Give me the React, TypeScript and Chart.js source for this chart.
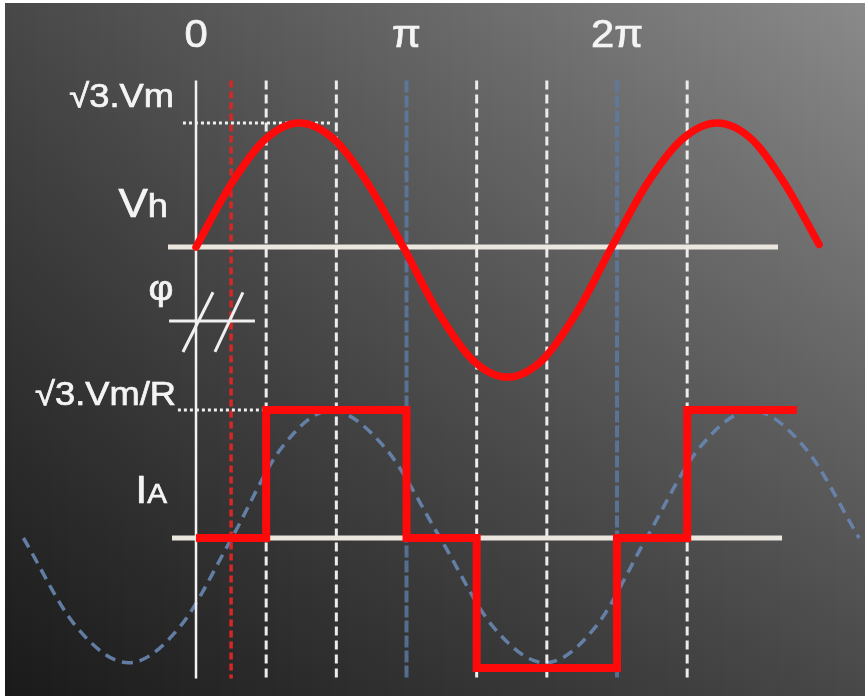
import React, { useEffect, useRef } from 'react';
import { Chart, registerables } from 'chart.js';

Chart.register(...registerables);

// ---- axis ranges (x in multiples of π, y in amplitude units) ----
const X_MIN = -0.9074;
const X_MAX = 3.1781;
const Y_MIN = -1.2154;
const Y_MAX = 4.1154;

// ---- tick labels ----
const TICK_VALUES = [0, 1, 2];
const TICK_LABELS = ['0', 'π', '2π'];

// ---- line-to-line voltage Vh (relative to its own baseline) ----
const V_BASE = 2.238;
const VOLT_X = [0, 0.165, 0.33, 0.49, 0.655, 0.82, 0.985, 1.15, 1.315, 1.48, 1.645, 1.81, 1.975, 2.14, 2.31, 2.475, 2.64, 2.8, 2.96];
const VOLT_Y = [0, 0.48, 0.83, 0.955, 0.83, 0.48, 0, -0.5, -0.87, -1.0, -0.87, -0.5, 0, 0.48, 0.83, 0.955, 0.83, 0.48, 0.02];

// ---- phase current IA (square wave) ----
const CURR_X = [0, 1 / 3, 1 / 3, 1, 1, 4 / 3, 4 / 3, 2, 2, 7 / 3, 7 / 3, 2.855];
const CURR_Y = [0, 0, 0.985, 0.985, 0, 0, -1.0, -1.0, 0, 0, 0.985, 0.985];

// ---- phase voltage (dashed blue, lagging by φ) ----
const PHASE_X = [-0.82, -0.57, -0.32, -0.075, 0.17, 0.405, 0.64, 0.9, 1.16, 1.41, 1.66, 1.9, 2.14, 2.39, 2.64, 2.895, 3.15];
const PHASE_Y = [0, -0.68, -0.96, -0.68, 0, 0.69, 0.98, 0.69, 0, -0.68, -0.96, -0.68, 0, 0.69, 0.98, 0.69, 0];

// ---- guide lines ----
const GRID_WHITE = [1 / 3, 2 / 3, 4 / 3, 5 / 3, 7 / 3];
const GRID_BLUE = [1, 2];
const PHI = 1 / 6;
const GUIDE_TOP = 3.52;
const GUIDE_BOTTOM = -1.08;
const V_PEAK = 0.954;
const I_PEAK = 0.985;
const VH_LINE = [-0.133, 2.765];
const IA_LINE = [-0.114, 2.784];
const V_DOT = [-0.062, 0.637];
const I_DOT = [-0.086, 0.34];
// φ marker: horizontal bar and two slashes
const PHI_BAR_X = [-0.128, 0.28];
const PHI_BAR_Y = 1.669;
const SLASH1_X = [-0.062, 0.081];
const SLASH2_X = [0.09, 0.223];
const SLASH_Y = [1.431, 1.89];

// ---- labels ----
const LABEL_VM = '√3.Vm';
const LABEL_VH = ['V', 'h'];
const LABEL_PHI = 'φ';
const LABEL_IM = '√3.Vm/R';
const LABEL_IA = ['I', 'A'];

const FONT = '"Liberation Sans", Arial, Helvetica, sans-serif';
const SX = 1.1;

const zip = (xs: number[], ys: number[], off = 0) => xs.map((x, i) => ({ x, y: ys[i] + off }));

function seg(x1: number, y1: number, x2: number, y2: number, extra: any) {
  return {
    data: [{ x: x1, y: y1 }, { x: x2, y: y2 }],
    showLine: true,
    pointRadius: 0,
    fill: false,
    tension: 0,
    ...extra,
  };
}

const bgPlugin = {
  id: 'bgGrad',
  beforeDraw(chart: any) {
    const { ctx, width, height } = chart;
    ctx.save();
    const step = 4;
    for (let x = 0; x < width; x += step) {
      const t = (x + step / 2) / width;
      const top = Math.round(72 + (138 - 72) * t);
      const bot = Math.round(26 + (72 - 26) * t);
      const g = ctx.createLinearGradient(0, 0, 0, height);
      g.addColorStop(0, `rgb(${top},${top},${top})`);
      g.addColorStop(1, `rgb(${bot},${bot},${bot})`);
      ctx.fillStyle = g;
      ctx.fillRect(x, 0, step, height);
    }
    ctx.restore();
  },
};

function drawParts(ctx: any, parts: [string, number][], x: number, baseline: number, align: 'right' | 'center') {
  let total = 0;
  const widths = parts.map(([t, s]) => {
    ctx.font = `${s}px ${FONT}`;
    const w = ctx.measureText(t).width * SX;
    total += w;
    return w;
  });
  let start = align === 'right' ? x - total : x - total / 2;
  parts.forEach(([t, s], i) => {
    ctx.save();
    ctx.font = `${s}px ${FONT}`;
    ctx.textAlign = 'left';
    ctx.textBaseline = 'alphabetic';
    ctx.translate(start, baseline);
    ctx.scale(SX, 1);
    ctx.fillText(t, 0, 0);
    ctx.lineWidth = 0.7;
    ctx.strokeText(t, 0, 0);
    ctx.restore();
    start += widths[i];
  });
}

const labelPlugin = {
  id: 'labels',
  afterDraw(chart: any) {
    const { ctx } = chart;
    const xs = chart.scales.x;
    const ys = chart.scales.y;
    ctx.save();
    ctx.fillStyle = '#f4f4f4';
    ctx.strokeStyle = '#f4f4f4';
    TICK_VALUES.forEach((v, i) => {
      drawParts(ctx, [[TICK_LABELS[i], 38]], xs.getPixelForValue(v), 44, 'center');
    });
    const axisX = xs.getPixelForValue(0);
    drawParts(ctx, [[LABEL_VM, 33]], axisX - 22, ys.getPixelForValue(V_BASE + V_PEAK) - 16, 'right');
    drawParts(ctx, [[LABEL_VH[0], 40], [LABEL_VH[1], 33]], axisX - 28, ys.getPixelForValue(V_BASE) - 30, 'right');
    drawParts(ctx, [[LABEL_PHI, 35]], axisX - 35, ys.getPixelForValue(PHI_BAR_Y) - 21, 'center');
    drawParts(ctx, [[LABEL_IM, 33]], axisX - 20, ys.getPixelForValue(I_PEAK) - 5, 'right');
    drawParts(ctx, [[LABEL_IA[0], 38], [LABEL_IA[1], 27]], axisX - 29, ys.getPixelForValue(0) - 35, 'right');
    ctx.restore();
  },
};

export default function App() {
  const ref = useRef<HTMLCanvasElement | null>(null);

  useEffect(() => {
    if (!ref.current) return;
    const white = '#ebe7df';
    const datasets: any[] = [];

    // red voltage (top-most)
    datasets.push({
      data: zip(VOLT_X, VOLT_Y, V_BASE),
      showLine: true,
      pointRadius: 0,
      borderColor: '#ff0a0a',
      borderWidth: 7.5,
      cubicInterpolationMode: 'monotone',
      borderCapStyle: 'round',
      order: 0,
    });
    // red current
    datasets.push({
      data: zip(CURR_X, CURR_Y),
      showLine: true,
      pointRadius: 0,
      borderColor: '#ff0a0a',
      borderWidth: 8,
      tension: 0,
      borderJoinStyle: 'miter',
      borderCapStyle: 'butt',
      order: 1,
    });
    // dotted levels
    datasets.push(seg(V_DOT[0], V_BASE + V_PEAK, V_DOT[1], V_BASE + V_PEAK, { borderColor: '#f0f0f0', borderWidth: 3, borderDash: [3, 3], order: 5 }));
    datasets.push(seg(I_DOT[0], I_PEAK, I_DOT[1], I_PEAK, { borderColor: '#f0f0f0', borderWidth: 3, borderDash: [3, 3], order: 5 }));
    // horizontal baselines
    datasets.push(seg(VH_LINE[0], V_BASE, VH_LINE[1], V_BASE, { borderColor: white, borderWidth: 5, order: 6 }));
    datasets.push(seg(IA_LINE[0], 0, IA_LINE[1], 0, { borderColor: white, borderWidth: 5, order: 6 }));
    // φ marker
    datasets.push(seg(PHI_BAR_X[0], PHI_BAR_Y, PHI_BAR_X[1], PHI_BAR_Y, { borderColor: '#f0f0f0', borderWidth: 3, order: 6 }));
    datasets.push(seg(SLASH1_X[0], SLASH_Y[0], SLASH1_X[1], SLASH_Y[1], { borderColor: '#f0f0f0', borderWidth: 3, order: 6 }));
    datasets.push(seg(SLASH2_X[0], SLASH_Y[0], SLASH2_X[1], SLASH_Y[1], { borderColor: '#f0f0f0', borderWidth: 3, order: 6 }));
    // vertical guides
    datasets.push(seg(0, GUIDE_TOP, 0, GUIDE_BOTTOM, { borderColor: '#f2f2f2', borderWidth: 2.5, order: 8 }));
    datasets.push(seg(PHI, GUIDE_TOP, PHI, GUIDE_BOTTOM, { borderColor: '#d82626', borderWidth: 3.5, borderDash: [7, 4], order: 8 }));
    GRID_WHITE.forEach((v) => {
      datasets.push(seg(v, GUIDE_TOP, v, GUIDE_BOTTOM, { borderColor: '#ececec', borderWidth: 3, borderDash: [9, 5], order: 8 }));
    });
    GRID_BLUE.forEach((v) => {
      datasets.push(seg(v, GUIDE_TOP, v, GUIDE_BOTTOM, { borderColor: 'rgba(92,122,164,0.8)', borderWidth: 4, borderDash: [12, 3], order: 9 }));
    });
    // phase voltage dashed blue
    datasets.push({
      data: zip(PHASE_X, PHASE_Y),
      showLine: true,
      pointRadius: 0,
      borderColor: 'rgba(104,134,176,0.92)',
      borderWidth: 3.5,
      borderDash: [11, 7],
      cubicInterpolationMode: 'monotone',
      order: 10,
    });

    const chart = new Chart(ref.current, {
      type: 'scatter',
      data: { datasets },
      options: {
        responsive: false,
        maintainAspectRatio: false,
        animation: false,
        events: [],
        layout: { padding: 0 },
        plugins: { legend: { display: false }, tooltip: { enabled: false } },
        scales: {
          x: { type: 'linear', min: X_MIN, max: X_MAX, display: false },
          y: { type: 'linear', min: Y_MIN, max: Y_MAX, display: false },
        },
      },
      plugins: [bgPlugin, labelPlugin],
    } as any);
    return () => chart.destroy();
  }, []);

  return (
    <div style={{ position: 'absolute', left: 5, top: 3, width: 860, height: 693 }}>
      <canvas ref={ref} width={860} height={693} style={{ display: 'block' }} />
    </div>
  );
}
